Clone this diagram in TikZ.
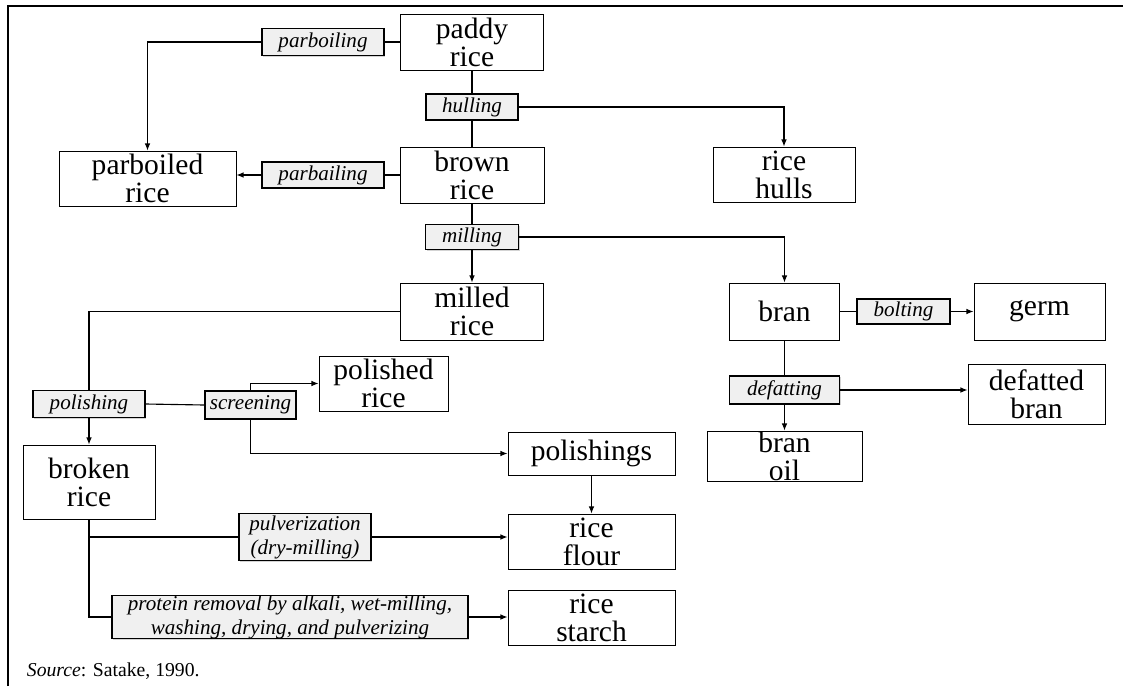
\documentclass[tikz,border=0pt]{standalone}
\usepackage{fontspec}
\setmainfont{Liberation Serif}
\usetikzlibrary{arrows.meta, shadows}

\newcommand{\prodfont}{\fontsize{21}{20}\selectfont}
\newcommand{\procfont}{\fontsize{15}{17}\selectfont\itshape}

\begin{document}
\begin{tikzpicture}[x=0.025cm, y=-0.025cm,
  prod/.style 2 args={draw, line width=0.7pt, fill=white, align=center, inner sep=0pt,
    minimum width=#1*0.025cm, minimum height=#2*0.025cm, font=\prodfont},
  proc/.style 2 args={draw, line width=1pt, fill=gray!12, align=center, inner sep=0pt,
    drop shadow={shadow xshift=1pt, shadow yshift=-1pt, opacity=0.35},
    minimum width=#1*0.025cm, minimum height=#2*0.025cm, font=\procfont},
  link/.style={line width=0.8pt},
  feed/.style={link, -{Latex[length=5pt,width=4pt]}}]
\useasboundingbox (0,0) rectangle (1123,686);
\draw[line width=1.6pt] (8,686) -- (8,6) -- (1123,6); % open frame

% products
\node[prod={143}{56}] (paddy) at (472,42) {paddy\\rice};
\node[prod={144}{56}] (brown) at (472,175) {brown\\rice};
\node[prod={143}{57}] (milled) at (472,311.5) {milled\\rice};
\node[prod={177}{55}] (parboiled) at (147.5,178.5) {parboiled\\rice};
\node[prod={142}{55}] (hulls) at (784,174.5) {rice\\hulls};
\node[prod={110}{57}] (bran) at (784.5,311.5) {bran};
\node[prod={131}{57}] (germ) at (1039.5,311.5) {germ};
\node[prod={137}{60}] (defatted) at (1036.5,394) {defatted\\bran};
\node[prod={155}{50}] (branoil) at (784.5,456) {bran\\oil};
\node[prod={129}{55}] (polished) at (383.5,383.5) {polished\\rice};
\node[prod={167}{43}] (polishings) at (591.5,453.5) {polishings};
\node[prod={132}{74}] (broken) at (89,482) {broken\\rice};
\node[prod={167}{55}] (flour) at (591.5,541.5) {rice\\flour};
\node[prod={167}{55}] (starch) at (591.5,617.5) {rice\\starch};

% processes
\node[proc={122}{27}] (parboilA) at (323,42) {parboiling};
\node[proc={122}{26}] (parboilB) at (323,175) {parbailing};
\node[proc={92}{26}] (hulling) at (472,107) {hulling};
\node[proc={93}{25}] (milling) at (472,237) {milling};
\node[proc={93}{25}] (bolting) at (903.5,311.5) {bolting};
\node[proc={110}{28}] (defatting) at (784.5,390) {defatting};
\node[proc={112}{27}] (polishing) at (89,404) {polishing};
\node[proc={91}{28}] (screening) at (250.5,405) {screening};
\node[proc={132}{47}] (pulv) at (305,537) {pulverization\\(dry-milling)};
\node[proc={356}{43}] (protein) at (290,617) {protein removal by alkali, wet-milling,\\washing, drying, and pulverizing};

% connectors
\draw[link] (paddy.west) -- (parboilA.east);
\draw[feed] (parboilA.west) -| (parboiled.north);
\draw[link] (paddy.south) -- (hulling.north);
\draw[link] (hulling.south) -- (brown.north);
\draw[feed] (hulling.east) -| (hulls.north);
\draw[link] (brown.west) -- (parboilB.east);
\draw[feed] (parboilB.west) -- (parboilB.west -| parboiled.east);
\draw[link] (brown.south) -- (milling.north);
\draw[feed] (milling.south) -- (milled.north);
\draw[feed] (milling.east) -| (bran.north);
\draw[link] (bran.east) -- (bolting.west);
\draw[feed] (bolting.east) -- (germ.west);
\draw[link] (bran.south) -- (defatting.north);
\draw[feed] (defatting.south) -- (branoil.north);
\draw[feed] (defatting.east) -- (defatting.east -| defatted.west);
\draw[link] (milled.west) -| (polishing.north);
\draw[feed] (polishing.south) -- (broken.north);
\draw[link] (polishing.east) -- (screening.west);
\draw[feed] (screening.north) |- (polished.west);
\draw[feed] (screening.south) |- (polishings.west);
\draw[feed] (polishings.south) -- (flour.north);
\draw[link] (broken.south) |- (protein.west);
\draw[link] (broken.south |- pulv.west) -- (pulv.west);
\draw[feed] (pulv.east) -- (pulv.east -| flour.west);
\draw[feed] (protein.east) -- (protein.east -| starch.west);

\node[anchor=west, font=\fontsize{14}{16}\selectfont] (source) at (22,671) {\textit{Source}: Satake, 1990.};
\end{tikzpicture}
\end{document}
